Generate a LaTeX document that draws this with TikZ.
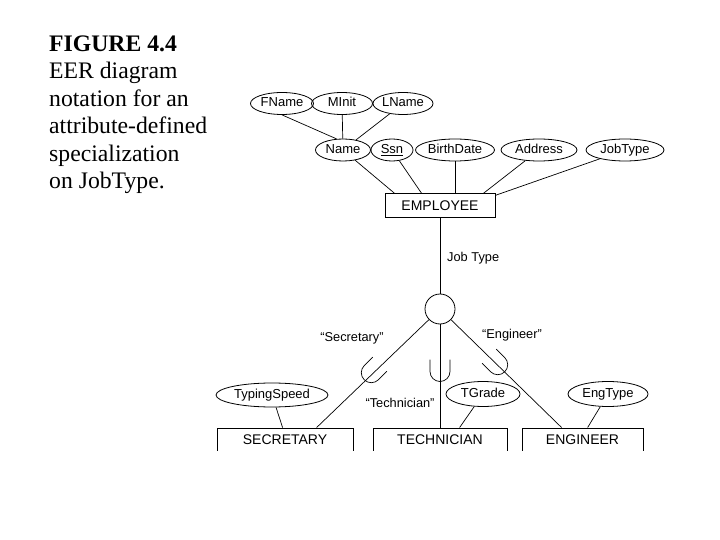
\documentclass[tikz,border=0pt]{standalone}
\usepackage{fontspec}
\setmainfont{Liberation Serif}
\newfontfamily\diagfont{Liberation Sans}
\usetikzlibrary{shapes.geometric}

\begin{document}
\begin{tikzpicture}[x=1pt,y=-1pt,
  attrib/.style={ellipse,draw,line width=0.8pt,inner sep=0pt,minimum height=22pt,
    text height=9.4pt,text depth=2.6pt,font=\diagfont\fontsize{13}{15}\selectfont},
  entity/.style={rectangle,draw,line width=0.8pt,inner sep=0pt,minimum height=23.5pt,
    text height=10pt,text depth=0pt,font=\diagfont\fontsize{14}{16}\selectfont},
  tag/.style={inner sep=0pt,font=\diagfont\fontsize{12.8}{14}\selectfont},
  link/.style={line width=0.7pt}]
  \useasboundingbox (0,0) rectangle (720,540);
  \node[anchor=north west,inner sep=0pt,align=left,font=\fontsize{23.7}{27.5}\selectfont] (caption) at (49,35.5)
    {\textbf{FIGURE 4.4}\\EER diagram\\notation for an\\attribute-defined\\specialization\\on JobType.};
  \begin{scope}
    \clip (0,0) rectangle (720,450.8);
    % attributes of the superclass
    \node[attrib,minimum width=63pt] (fname) at (282,103.5) {FName};
    \node[attrib,minimum width=61pt] (minit) at (342,103.5) {MInit};
    \node[attrib,minimum width=60pt] (lname) at (403,103.5) {LName};
    \node[attrib,minimum width=55pt] (name) at (343,150) {Name};
    \node[attrib,minimum width=42pt] (ssn) at (392,150) {\underline{Ssn}};
    \node[attrib,minimum width=79pt] (birthdate) at (455,150) {BirthDate};
    \node[attrib,minimum width=76pt] (address) at (539,150) {Address};
    \node[attrib,minimum width=78pt] (jobtype) at (625,150) {JobType};
    \node[entity,minimum width=110pt] (employee) at (440,205.5) {EMPLOYEE};
    \draw[link] (fname.south) -- (name.120);
    \draw[link] (minit) -- (name);
    \draw[link] (lname) -- (name);
    \draw[link] (name) -- ([xshift=10pt]employee.north west);
    \draw[link] (ssn) -- ([xshift=37pt]employee.north west);
    \draw[link] (birthdate) -- (birthdate |- employee.north);
    \draw[link] (address) -- ([xshift=-12pt]employee.north east);
    \draw[link] (jobtype) -- ([yshift=-2pt]employee.north east);
    % specialization on the defining attribute
    \node[circle,draw,line width=0.8pt,minimum size=30pt,inner sep=0pt] (spec) at (440,309) {};
    \node[tag,anchor=west] (jt) at (447,258) {Job Type};
    \draw[link] (employee) -- (spec);
    \node[entity,minimum width=136pt] (secretary) at (285,439.7) {SECRETARY};
    \node[entity,minimum width=134pt] (technician) at (440,439.7) {TECHNICIAN};
    \node[entity,minimum width=121pt] (engineer) at (582.5,439.7) {ENGINEER};
    \draw[link] (spec) -- ([xshift=100pt]secretary.north west);
    \draw[link] (spec) -- (technician);
    \draw[link] (spec) -- ([xshift=40pt]engineer.north west);
    \foreach \ux/\uy/\uturn in {372/372/-45,440/370.5/0,497/364/45}
      \draw[link,shift={(\ux,\uy)},rotate=\uturn] (-10,-11) -- (-10,1) arc (180:0:10) -- (10,-11);
    \node[tag] (secq) at (352,338) {“Secretary”};
    \node[tag] (engq) at (512,335) {“Engineer”};
    \node[tag] (techq) at (400,403) {“Technician”};
    % attributes of the subclasses
    \node[attrib,minimum width=112pt,minimum height=24pt] (typingspeed) at (272,395) {TypingSpeed};
    \node[attrib,minimum width=74pt,minimum height=25pt] (tgrade) at (483,394) {TGrade};
    \node[attrib,minimum width=80pt,minimum height=25pt] (engtype) at (608,394) {EngType};
    \draw[link] (typingspeed) -- ([xshift=66pt]secretary.north west);
    \draw[link] (tgrade) -- ([xshift=87pt]technician.north west);
    \draw[link] (engtype) -- ([xshift=66pt]engineer.north west);
  \end{scope}
\end{tikzpicture}
\end{document}
